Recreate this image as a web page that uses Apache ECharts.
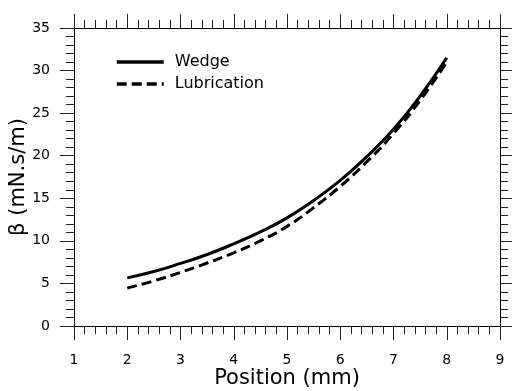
<!DOCTYPE html>
<html><head><meta charset="utf-8">
<script src="https://cdn.jsdelivr.net/npm/echarts@6/dist/echarts.min.js"></script>
<style>html,body{margin:0;padding:0;background:#fff}#c{width:512px;height:391px}</style>
</head><body><div id="c"></div>
<script>
const positions = [2, 2.5, 3, 3.5, 4, 4.5, 5, 5.5, 6, 6.5, 7, 7.5, 8];
const wedge = [5.65, 6.4, 7.35, 8.4, 9.65, 11.05, 12.7, 14.75, 17.1, 19.9, 23.1, 27.0, 31.5];
const lubrication = [4.45, 5.3, 6.3, 7.4, 8.6, 10.0, 11.7, 13.9, 16.4, 19.3, 22.6, 26.5, 31.0];
const seriesNames = ['Wedge', 'Lubrication'];
const xTitle = 'Position (mm)';
const yTitle = 'β (mN.s/m)';

const font = '"DejaVu Sans", sans-serif';
const axisCommon = {
  axisLine: {show: true, onZero: false, lineStyle: {color: '#000', width: 1}},
  axisTick: {show: true, inside: false, length: 14, lineStyle: {color: '#222', width: 1}},
  minorTick: {show: true, splitNumber: 5, length: 8, lineStyle: {color: '#222', width: 1}},
  splitLine: {show: false}
};
const chart = echarts.init(document.getElementById('c'), null, {renderer: 'canvas'});
chart.setOption({
  animation: false,
  backgroundColor: '#fff',
  grid: {left: 74, right: 12, top: 28, bottom: 65, outerBoundsMode: 'none', containLabel: false},
  legend: {
    orient: 'vertical', left: 110, top: 49, itemWidth: 47, itemHeight: 14, itemGap: 6,
    itemStyle: {opacity: 0},
    lineStyle: {width: 3.5},
    textStyle: {fontFamily: font, fontSize: 16, lineHeight: 16, color: '#000', padding: [0, 0, 0, 6]},
    data: seriesNames
  },
  xAxis: [
    Object.assign({type: 'value', min: 1, max: 9, interval: 1, position: 'bottom',
      name: xTitle, nameLocation: 'middle', nameGap: 42, nameMoveOverlap: false,
      nameTextStyle: {fontFamily: font, fontSize: 21, color: '#000'},
      axisLabel: {margin: 27, fontFamily: font, fontSize: 14, color: '#000'}}, axisCommon),
    Object.assign({type: 'value', min: 1, max: 9, interval: 1, position: 'top',
      axisLabel: {show: false}}, axisCommon)
  ],
  yAxis: [
    Object.assign({type: 'value', min: 0, max: 35, interval: 5, position: 'left',
      name: yTitle, nameLocation: 'middle', nameGap: 45, nameMoveOverlap: false,
      nameTextStyle: {fontFamily: font, fontSize: 21, color: '#000'},
      axisLabel: {margin: 24, fontFamily: font, fontSize: 14, color: '#000'}}, axisCommon),
    Object.assign({type: 'value', min: 0, max: 35, interval: 5, position: 'right',
      axisLabel: {show: false}}, axisCommon)
  ],
  series: [
    {name: seriesNames[0], type: 'line', smooth: true, symbol: 'none',
      lineStyle: {color: '#000', width: 3, type: 'solid'}, itemStyle: {color: '#000'},
      data: positions.map((x, i) => [x, wedge[i]])},
    {name: seriesNames[1], type: 'line', smooth: true, symbol: 'none',
      lineStyle: {color: '#000', width: 3, type: [10, 5]}, itemStyle: {color: '#000'},
      data: positions.map((x, i) => [x, lubrication[i]])}
  ]
});
</script></body></html>
